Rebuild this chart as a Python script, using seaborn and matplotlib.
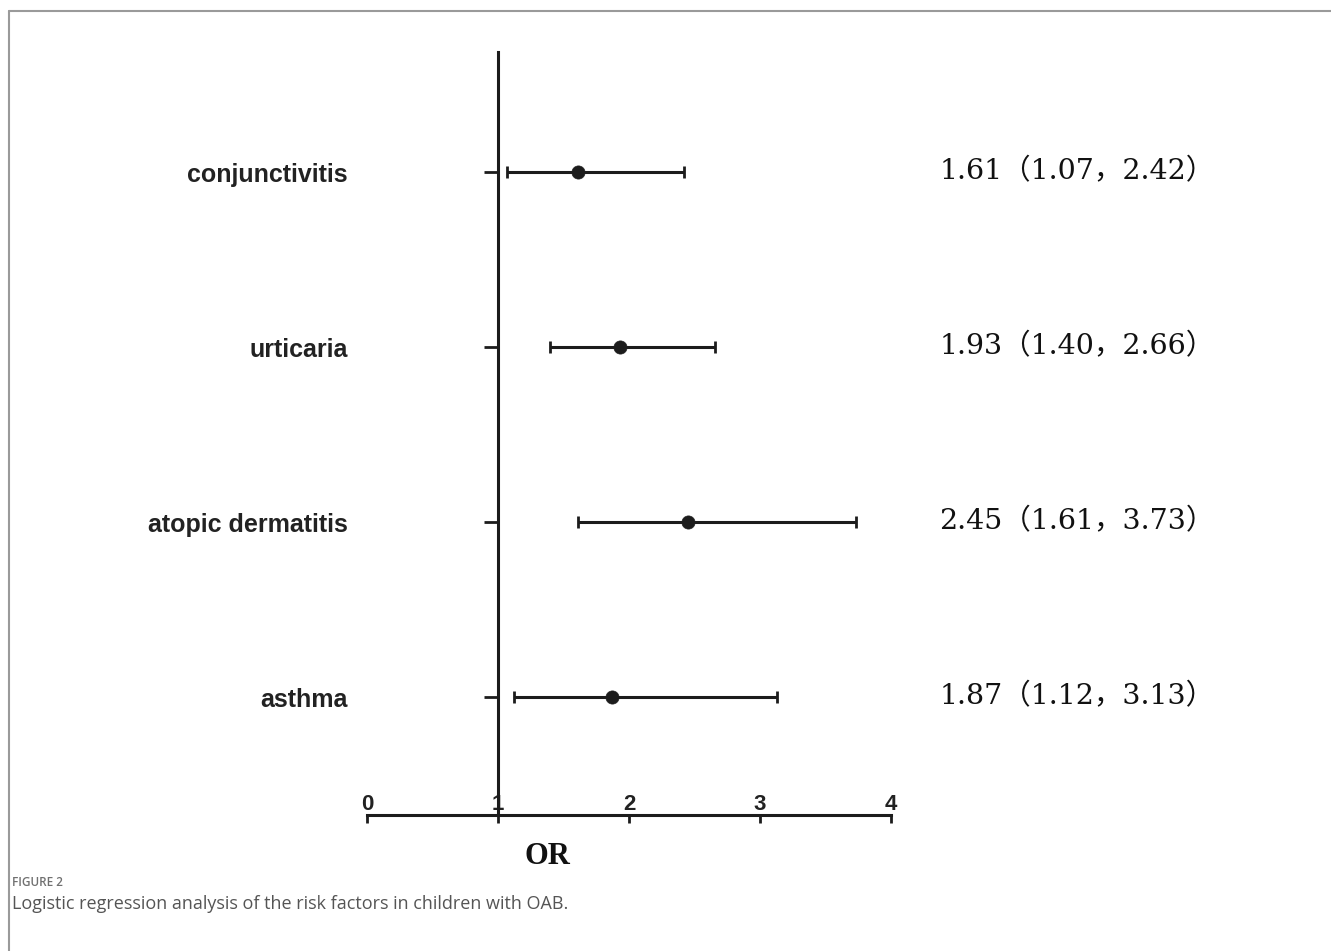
import seaborn as sns
import matplotlib.pyplot as plt
import pandas as pd
from matplotlib.lines import Line2D

sns.set_style("ticks")
plt.rcParams['font.family'] = ['Liberation Sans', 'DejaVu Sans']

# Data
factors = ['conjunctivitis', 'urticaria', 'atopic dermatitis', 'asthma']
odds_ratio = [1.61, 1.93, 2.45, 1.87]
ci_low = [1.07, 1.40, 1.61, 1.12]
ci_high = [2.42, 2.66, 3.73, 3.13]
x_ticks = [0, 1, 2, 3, 4]

df = pd.DataFrame({'factor': factors, 'OR': odds_ratio,
                   'low': ci_low, 'high': ci_high})
ink = '#1c1c1c'

fig = plt.figure(figsize=(13.31, 9.51), dpi=100)
ax = fig.add_axes([367 / 1331, 136 / 951, 524 / 1331, 763 / 951])

# CI bars then the point estimate
ax.errorbar(df['OR'], df['factor'],
            xerr=[df['OR'] - df['low'], df['high'] - df['OR']],
            fmt='none', ecolor=ink, elinewidth=2.2, capsize=4.3, capthick=2)
sns.scatterplot(data=df, x='OR', y='factor', ax=ax, color=ink, s=90,
                edgecolor=ink, linewidth=0.5, zorder=3, legend=False)

# OR text on the right
for i, r in df.iterrows():
    ax.text(4.37, r['factor'],
            f"{r['OR']:.2f}（{r['low']:.2f}，{r['high']:.2f}）",
            family=['DejaVu Serif', 'Noto Sans CJK SC'], fontsize=20.5,
            va='center', ha='left', color='#111', clip_on=False)

ax.set_xlim(0, 4)
ax.set_ylim(3.674, -0.686)
ax.set_xticks(x_ticks)

for s in ['top', 'right']:
    ax.spines[s].set_visible(False)
ax.spines['left'].set_position(('data', 1))
for s in ['left', 'bottom']:
    ax.spines[s].set_linewidth(2.2)
    ax.spines[s].set_color(ink)

ax.tick_params(axis='y', direction='out', length=10, width=2, color=ink,
               pad=98, labelsize=18)
ax.tick_params(axis='x', direction='out', length=6, width=2, color=ink,
               pad=-21, labelsize=16)
for lab in ax.get_yticklabels() + ax.get_xticklabels():
    lab.set_fontweight('bold')
    lab.set_color('#222')

ax.set_ylabel('')
ax.set_xlabel('OR', family='Liberation Serif', fontsize=22,
              fontweight='bold', color='#111')
ax.xaxis.set_label_coords(0.344, -0.035)

# frame and caption
fig.add_artist(Line2D([9 / 1331, 9 / 1331], [0, 1 - 11 / 951],
                      color='#9a9a9a', lw=1.5))
fig.add_artist(Line2D([9 / 1331, 1], [1 - 11 / 951, 1 - 11 / 951],
                      color='#9a9a9a', lw=1.5))
fig.text(12 / 1331, 1 - 882 / 951, 'FIGURE 2', family='Open Sans',
         fontsize=8.5, fontweight='semibold', color='#707070', va='center')
fig.text(12 / 1331, 1 - 904 / 951,
         'Logistic regression analysis of the risk factors in children with OAB.',
         family='Open Sans', fontsize=13, color='#555555', va='center')

plt.savefig('out.png', dpi=100)
plt.close()
